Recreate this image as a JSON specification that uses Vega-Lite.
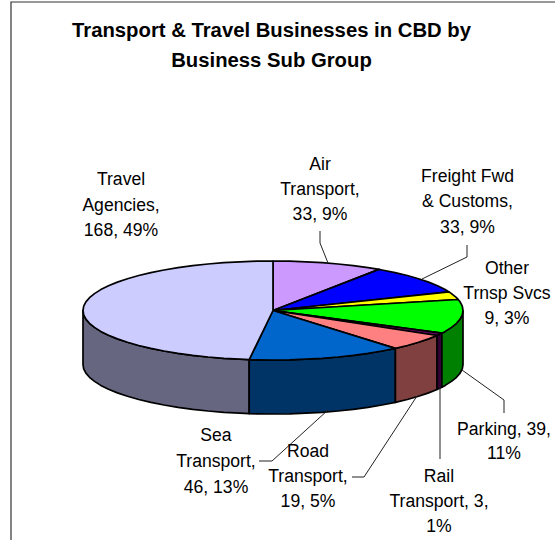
{"$schema":"https://vega.github.io/schema/vega-lite/v6.json","width":555,"height":540,"padding":0,"autosize":"none","background":"white",
"title":{"text":["Transport & Travel Businesses in CBD by","Business Sub Group"],"font":"Liberation Sans","fontSize":20.3,"fontWeight":"bold","color":"black","lineHeight":30,"anchor":"middle","frame":"group","offset":-72,"dx":-6},
"config":{"view":{"stroke":null}},
"datasets":{
"slices":[
{"k":"Travel side","i":0,"x":249.2,"y":359.6},{"k":"Travel side","i":1,"x":240,"y":359.2},{"k":"Travel side","i":2,"x":223.8,"y":358.3},{"k":"Travel side","i":3,"x":208,"y":357},{"k":"Travel side","i":4,"x":192.7,"y":355.4},{"k":"Travel side","i":5,"x":178,"y":353.4},{"k":"Travel side","i":6,"x":164,"y":351},{"k":"Travel side","i":7,"x":150.9,"y":348.4},{"k":"Travel side","i":8,"x":138.7,"y":345.5},{"k":"Travel side","i":9,"x":127.5,"y":342.3},{"k":"Travel side","i":10,"x":117.4,"y":338.9},{"k":"Travel side","i":11,"x":108.5,"y":335.3},{"k":"Travel side","i":12,"x":100.8,"y":331.4},{"k":"Travel side","i":13,"x":94.5,"y":327.4},{"k":"Travel side","i":14,"x":89.5,"y":323.3},{"k":"Travel side","i":15,"x":85.9,"y":319.1},{"k":"Travel side","i":16,"x":83.7,"y":314.8},{"k":"Travel side","i":17,"x":83,"y":310.5},{"k":"Travel side","i":18,"x":83,"y":364.5},{"k":"Travel side","i":19,"x":83.7,"y":368.8},{"k":"Travel side","i":20,"x":85.9,"y":373.1},{"k":"Travel side","i":21,"x":89.5,"y":377.3},{"k":"Travel side","i":22,"x":94.5,"y":381.4},{"k":"Travel side","i":23,"x":100.8,"y":385.4},{"k":"Travel side","i":24,"x":108.5,"y":389.3},{"k":"Travel side","i":25,"x":117.4,"y":392.9},{"k":"Travel side","i":26,"x":127.5,"y":396.3},{"k":"Travel side","i":27,"x":138.7,"y":399.5},{"k":"Travel side","i":28,"x":150.9,"y":402.4},{"k":"Travel side","i":29,"x":164,"y":405},{"k":"Travel side","i":30,"x":178,"y":407.4},{"k":"Travel side","i":31,"x":192.7,"y":409.4},{"k":"Travel side","i":32,"x":208,"y":411},{"k":"Travel side","i":33,"x":223.8,"y":412.3},{"k":"Travel side","i":34,"x":240,"y":413.2},{"k":"Travel side","i":35,"x":249.2,"y":413.6},{"k":"Travel side","i":36,"x":249.2,"y":359.6},
{"k":"Sea side","i":0,"x":395.4,"y":348.4},{"k":"Sea side","i":1,"x":382,"y":351},{"k":"Sea side","i":2,"x":368,"y":353.4},{"k":"Sea side","i":3,"x":353.3,"y":355.4},{"k":"Sea side","i":4,"x":338,"y":357},{"k":"Sea side","i":5,"x":322.2,"y":358.3},{"k":"Sea side","i":6,"x":306,"y":359.2},{"k":"Sea side","i":7,"x":289.6,"y":359.8},{"k":"Sea side","i":8,"x":273,"y":360},{"k":"Sea side","i":9,"x":256.4,"y":359.8},{"k":"Sea side","i":10,"x":249.2,"y":359.6},{"k":"Sea side","i":11,"x":249.2,"y":413.6},{"k":"Sea side","i":12,"x":256.4,"y":413.8},{"k":"Sea side","i":13,"x":273,"y":414},{"k":"Sea side","i":14,"x":289.6,"y":413.8},{"k":"Sea side","i":15,"x":306,"y":413.2},{"k":"Sea side","i":16,"x":322.2,"y":412.3},{"k":"Sea side","i":17,"x":338,"y":411},{"k":"Sea side","i":18,"x":353.3,"y":409.4},{"k":"Sea side","i":19,"x":368,"y":407.4},{"k":"Sea side","i":20,"x":382,"y":405},{"k":"Sea side","i":21,"x":395.4,"y":402.4},{"k":"Sea side","i":22,"x":395.4,"y":348.4},
{"k":"Road side","i":0,"x":437,"y":335.5},{"k":"Road side","i":1,"x":428.6,"y":338.9},{"k":"Road side","i":2,"x":418.5,"y":342.3},{"k":"Road side","i":3,"x":407.3,"y":345.5},{"k":"Road side","i":4,"x":395.4,"y":348.4},{"k":"Road side","i":5,"x":395.4,"y":402.4},{"k":"Road side","i":6,"x":407.3,"y":399.5},{"k":"Road side","i":7,"x":418.5,"y":396.3},{"k":"Road side","i":8,"x":428.6,"y":392.9},{"k":"Road side","i":9,"x":437,"y":389.5},{"k":"Road side","i":10,"x":437,"y":335.5},
{"k":"Rail side","i":0,"x":441.9,"y":333.2},{"k":"Rail side","i":1,"x":437.5,"y":335.3},{"k":"Rail side","i":2,"x":437,"y":335.5},{"k":"Rail side","i":3,"x":437,"y":389.5},{"k":"Rail side","i":4,"x":441.9,"y":387.2},{"k":"Rail side","i":5,"x":441.9,"y":333.2},
{"k":"Parking side","i":0,"x":463,"y":310.5},{"k":"Parking side","i":1,"x":462.3,"y":314.8},{"k":"Parking side","i":2,"x":460.1,"y":319.1},{"k":"Parking side","i":3,"x":456.5,"y":323.3},{"k":"Parking side","i":4,"x":451.5,"y":327.4},{"k":"Parking side","i":5,"x":445.2,"y":331.4},{"k":"Parking side","i":6,"x":441.9,"y":333.2},{"k":"Parking side","i":7,"x":441.9,"y":387.2},{"k":"Parking side","i":8,"x":445.2,"y":385.4},{"k":"Parking side","i":9,"x":451.5,"y":381.4},{"k":"Parking side","i":10,"x":456.5,"y":377.3},{"k":"Parking side","i":11,"x":460.1,"y":373.1},{"k":"Parking side","i":12,"x":462.3,"y":368.8},{"k":"Parking side","i":13,"x":463,"y":364.5},{"k":"Parking side","i":14,"x":463,"y":310.5},
{"k":"Air top","i":0,"x":273,"y":310.5},{"k":"Air top","i":1,"x":273,"y":261},{"k":"Air top","i":2,"x":289.6,"y":261.2},{"k":"Air top","i":3,"x":306,"y":261.8},{"k":"Air top","i":4,"x":322.2,"y":262.7},{"k":"Air top","i":5,"x":338,"y":264},{"k":"Air top","i":6,"x":353.3,"y":265.6},{"k":"Air top","i":7,"x":368,"y":267.6},{"k":"Air top","i":8,"x":379.1,"y":269.4},{"k":"Air top","i":9,"x":273,"y":310.5},
{"k":"Freight top","i":0,"x":273,"y":310.5},{"k":"Freight top","i":1,"x":379.1,"y":269.4},{"k":"Freight top","i":2,"x":382,"y":270},{"k":"Freight top","i":3,"x":395.1,"y":272.6},{"k":"Freight top","i":4,"x":407.3,"y":275.5},{"k":"Freight top","i":5,"x":418.5,"y":278.7},{"k":"Freight top","i":6,"x":428.6,"y":282.1},{"k":"Freight top","i":7,"x":437.5,"y":285.8},{"k":"Freight top","i":8,"x":445.2,"y":289.6},{"k":"Freight top","i":9,"x":449,"y":291.9},{"k":"Freight top","i":10,"x":273,"y":310.5},
{"k":"Other top","i":0,"x":273,"y":310.5},{"k":"Other top","i":1,"x":449,"y":291.9},{"k":"Other top","i":2,"x":451.5,"y":293.6},{"k":"Other top","i":3,"x":456.5,"y":297.7},{"k":"Other top","i":4,"x":458.2,"y":299.5},{"k":"Other top","i":5,"x":273,"y":310.5},
{"k":"Parking top","i":0,"x":273,"y":310.5},{"k":"Parking top","i":1,"x":458.2,"y":299.5},{"k":"Parking top","i":2,"x":460.1,"y":301.9},{"k":"Parking top","i":3,"x":462.3,"y":306.2},{"k":"Parking top","i":4,"x":463,"y":310.5},{"k":"Parking top","i":5,"x":462.3,"y":314.8},{"k":"Parking top","i":6,"x":460.1,"y":319.1},{"k":"Parking top","i":7,"x":456.5,"y":323.3},{"k":"Parking top","i":8,"x":451.5,"y":327.4},{"k":"Parking top","i":9,"x":445.2,"y":331.4},{"k":"Parking top","i":10,"x":441.9,"y":333.2},{"k":"Parking top","i":11,"x":273,"y":310.5},
{"k":"Rail top","i":0,"x":273,"y":310.5},{"k":"Rail top","i":1,"x":441.9,"y":333.2},{"k":"Rail top","i":2,"x":437.5,"y":335.3},{"k":"Rail top","i":3,"x":437,"y":335.5},{"k":"Rail top","i":4,"x":273,"y":310.5},
{"k":"Road top","i":0,"x":273,"y":310.5},{"k":"Road top","i":1,"x":437,"y":335.5},{"k":"Road top","i":2,"x":428.6,"y":338.9},{"k":"Road top","i":3,"x":418.5,"y":342.3},{"k":"Road top","i":4,"x":407.3,"y":345.5},{"k":"Road top","i":5,"x":395.4,"y":348.4},{"k":"Road top","i":6,"x":273,"y":310.5},
{"k":"Sea top","i":0,"x":273,"y":310.5},{"k":"Sea top","i":1,"x":395.4,"y":348.4},{"k":"Sea top","i":2,"x":382,"y":351},{"k":"Sea top","i":3,"x":368,"y":353.4},{"k":"Sea top","i":4,"x":353.3,"y":355.4},{"k":"Sea top","i":5,"x":338,"y":357},{"k":"Sea top","i":6,"x":322.2,"y":358.3},{"k":"Sea top","i":7,"x":306,"y":359.2},{"k":"Sea top","i":8,"x":289.6,"y":359.8},{"k":"Sea top","i":9,"x":273,"y":360},{"k":"Sea top","i":10,"x":256.4,"y":359.8},{"k":"Sea top","i":11,"x":249.2,"y":359.6},{"k":"Sea top","i":12,"x":273,"y":310.5},
{"k":"Travel top","i":0,"x":273,"y":310.5},{"k":"Travel top","i":1,"x":249.2,"y":359.6},{"k":"Travel top","i":2,"x":240,"y":359.2},{"k":"Travel top","i":3,"x":223.8,"y":358.3},{"k":"Travel top","i":4,"x":208,"y":357},{"k":"Travel top","i":5,"x":192.7,"y":355.4},{"k":"Travel top","i":6,"x":178,"y":353.4},{"k":"Travel top","i":7,"x":164,"y":351},{"k":"Travel top","i":8,"x":150.9,"y":348.4},{"k":"Travel top","i":9,"x":138.7,"y":345.5},{"k":"Travel top","i":10,"x":127.5,"y":342.3},{"k":"Travel top","i":11,"x":117.4,"y":338.9},{"k":"Travel top","i":12,"x":108.5,"y":335.3},{"k":"Travel top","i":13,"x":100.8,"y":331.4},{"k":"Travel top","i":14,"x":94.5,"y":327.4},{"k":"Travel top","i":15,"x":89.5,"y":323.3},{"k":"Travel top","i":16,"x":85.9,"y":319.1},{"k":"Travel top","i":17,"x":83.7,"y":314.8},{"k":"Travel top","i":18,"x":83,"y":310.5},{"k":"Travel top","i":19,"x":83.7,"y":306.2},{"k":"Travel top","i":20,"x":85.9,"y":301.9},{"k":"Travel top","i":21,"x":89.5,"y":297.7},{"k":"Travel top","i":22,"x":94.5,"y":293.6},{"k":"Travel top","i":23,"x":100.8,"y":289.6},{"k":"Travel top","i":24,"x":108.5,"y":285.8},{"k":"Travel top","i":25,"x":117.4,"y":282.1},{"k":"Travel top","i":26,"x":127.5,"y":278.7},{"k":"Travel top","i":27,"x":138.7,"y":275.5},{"k":"Travel top","i":28,"x":150.9,"y":272.6},{"k":"Travel top","i":29,"x":164,"y":270},{"k":"Travel top","i":30,"x":178,"y":267.6},{"k":"Travel top","i":31,"x":192.7,"y":265.6},{"k":"Travel top","i":32,"x":208,"y":264},{"k":"Travel top","i":33,"x":223.8,"y":262.7},{"k":"Travel top","i":34,"x":240,"y":261.8},{"k":"Travel top","i":35,"x":256.4,"y":261.2},{"k":"Travel top","i":36,"x":273,"y":261},{"k":"Travel top","i":37,"x":273,"y":310.5}
],
"leaders":[
{"k":"air","i":0,"x":320,"y":231},{"k":"air","i":1,"x":320,"y":243},{"k":"air","i":2,"x":328,"y":263},
{"k":"freight","i":0,"x":467,"y":245},{"k":"freight","i":1,"x":467,"y":257},{"k":"freight","i":2,"x":422,"y":279},
{"k":"parking","i":0,"x":462,"y":370},{"k":"parking","i":1,"x":504,"y":400},{"k":"parking","i":2,"x":504,"y":413},
{"k":"rail","i":0,"x":440,"y":387},{"k":"rail","i":1,"x":440,"y":459},
{"k":"road","i":0,"x":417,"y":396},{"k":"road","i":1,"x":364,"y":477},{"k":"road","i":2,"x":352,"y":477},
{"k":"sea","i":0,"x":328,"y":410},{"k":"sea","i":1,"x":272,"y":461},{"k":"sea","i":2,"x":259,"y":461}
],
"frame":[
{"k":"frame","i":0,"x":11,"y":540},{"k":"frame","i":1,"x":11,"y":2},{"k":"frame","i":2,"x":555,"y":2}
],
"labels":[
{"t":"Travel","x":121,"y":180},{"t":"Agencies,","x":121,"y":206},{"t":"168, 49%","x":121,"y":231},
{"t":"Air","x":320,"y":165},{"t":"Transport,","x":320,"y":190},{"t":"33, 9%","x":320,"y":215},
{"t":"Freight Fwd","x":467.5,"y":177},{"t":"& Customs,","x":467.5,"y":202},{"t":"33, 9%","x":467.5,"y":228},
{"t":"Other","x":507,"y":269},{"t":"Trnsp Svcs","x":507,"y":294},{"t":"9, 3%","x":507,"y":319},
{"t":"Parking, 39,","x":504,"y":430},{"t":"11%","x":504,"y":454},
{"t":"Rail","x":439,"y":477},{"t":"Transport, 3,","x":439,"y":502},{"t":"1%","x":439,"y":527},
{"t":"Road","x":308,"y":452},{"t":"Transport,","x":308,"y":477},{"t":"19, 5%","x":308,"y":502},
{"t":"Sea","x":216,"y":436},{"t":"Transport,","x":216,"y":462},{"t":"46, 13%","x":216,"y":488}
]},
"data":{"name":"slices"},
"encoding":{
"x":{"field":"x","type":"quantitative","axis":null,"scale":{"domain":[0,555],"nice":false,"zero":false}},
"y":{"field":"y","type":"quantitative","axis":null,"scale":{"domain":[540,0],"nice":false,"zero":false}}
},
"layer":[
{"data":{"name":"frame"},"mark":{"type":"line","stroke":"#333333","strokeWidth":1.2},"encoding":{"order":{"field":"i"}}},
{"mark":{"type":"line","stroke":"black","strokeWidth":1.7,"strokeJoin":"round"},
"encoding":{"order":{"field":"i"},"fill":{"field":"k","type":"nominal","legend":null,"scale":{
"domain":["Air top","Freight top","Other top","Parking top","Rail top","Road top","Sea top","Travel top","Parking side","Rail side","Road side","Sea side","Travel side"],
"range":["#CC99FF","#0000FF","#FFFF00","#00FF00","#660066","#FF8080","#0066CC","#CCCCFF","#008000","#330033","#804040","#003366","#666680"]}}}},
{"data":{"name":"leaders"},"mark":{"type":"line","stroke":"#222222","strokeWidth":1},"encoding":{"order":{"field":"i"},"detail":{"field":"k"}}},
{"data":{"name":"labels"},"mark":{"type":"text","font":"Liberation Sans","fontSize":17.6,"color":"black","align":"center","baseline":"middle"},"encoding":{"text":{"field":"t"}}}
]}
